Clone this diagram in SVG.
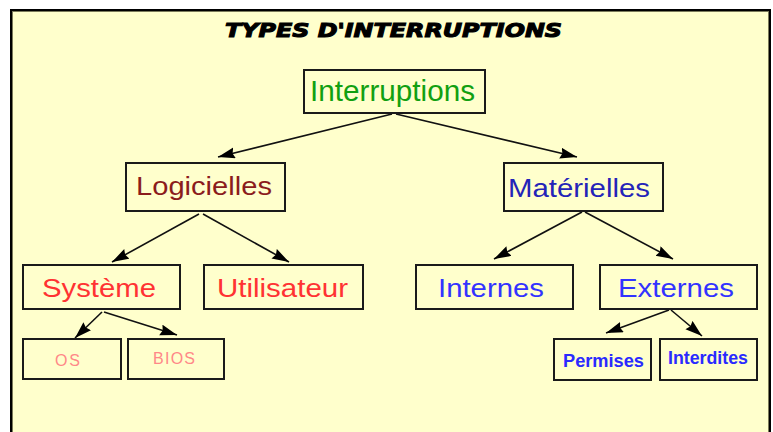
<svg xmlns="http://www.w3.org/2000/svg" width="773" height="432" viewBox="0 0 773 432">
<style>
.box{fill:none;stroke:#1a1a1a;stroke-width:2}
.t{font-family:"Liberation Sans",Arial,sans-serif}
.big{font-size:25px}
.edge{stroke:#111;stroke-width:1.6;fill:none;marker-end:url(#ah)}
</style>
<defs>
<marker id="ah" markerUnits="userSpaceOnUse" markerWidth="18" markerHeight="12" refX="17" refY="5.5" orient="auto">
<path d="M0,0 L17,5.5 L0,11 L2,5.5 z" fill="#000"/>
</marker>
</defs>
<rect x="0" y="0" width="773" height="432" fill="#ffffff"/>
<rect x="11" y="10" width="759" height="430" fill="#ffffcc" stroke="#000" stroke-width="2"/>
<rect x="12.5" y="11.5" width="756" height="430" fill="none" stroke="#7a7a5a" stroke-width="1"/>
<text x="225" y="37" textLength="337" lengthAdjust="spacingAndGlyphs" style="font-family:'DejaVu Sans',sans-serif;font-weight:bold;font-style:italic;font-size:20px" fill="#000" stroke="#000" stroke-width="1.1">TYPES D'INTERRUPTIONS</text>

<g id="connectors">
<line class="edge" x1="392" y1="114" x2="218" y2="157"/>
<line class="edge" x1="396" y1="114" x2="577" y2="157"/>
<line class="edge" x1="199" y1="214" x2="112" y2="262"/>
<line class="edge" x1="203" y1="214" x2="289" y2="262"/>
<line class="edge" x1="582" y1="212" x2="494" y2="259"/>
<line class="edge" x1="585" y1="212" x2="673" y2="259"/>
<line class="edge" x1="102" y1="312" x2="75" y2="338"/>
<line class="edge" x1="104" y1="312" x2="177" y2="335"/>
<line class="edge" x1="669" y1="310" x2="606" y2="333"/>
<line class="edge" x1="671" y1="310" x2="702" y2="336"/>
</g>

<g id="n-interruptions">
<rect class="box" x="304" y="70" width="181" height="43"/>
<text class="t" x="310" y="101" textLength="165" lengthAdjust="spacingAndGlyphs" font-size="29" fill="#11a011">Interruptions</text>
</g>
<g id="n-logicielles">
<rect class="box" x="126" y="163" width="159" height="48"/>
<text class="t big" x="136" y="195" textLength="136" lengthAdjust="spacingAndGlyphs" fill="#8b1c1c">Logicielles</text>
</g>
<g id="n-materielles">
<rect class="box" x="504" y="163" width="159" height="48"/>
<text class="t big" x="508" y="197" textLength="142" lengthAdjust="spacingAndGlyphs" fill="#2424b8">Matérielles</text>
</g>
<g id="n-systeme">
<rect class="box" x="23" y="265" width="157" height="44"/>
<text class="t big" x="42" y="297" textLength="114" lengthAdjust="spacingAndGlyphs" fill="#ff3333">Système</text>
</g>
<g id="n-utilisateur">
<rect class="box" x="204" y="265" width="159" height="44"/>
<text class="t big" x="217" y="297" textLength="131" lengthAdjust="spacingAndGlyphs" fill="#ff3333">Utilisateur</text>
</g>
<g id="n-internes">
<rect class="box" x="416" y="265" width="157" height="44"/>
<text class="t big" x="438" y="297" textLength="106" lengthAdjust="spacingAndGlyphs" fill="#3333ff">Internes</text>
</g>
<g id="n-externes">
<rect class="box" x="600" y="265" width="157" height="44"/>
<text class="t big" x="618" y="297" textLength="116" lengthAdjust="spacingAndGlyphs" fill="#3333ff">Externes</text>
</g>
<g id="n-os">
<rect class="box" x="23" y="339" width="98" height="40"/>
<text class="t" x="55" y="366" textLength="25" lengthAdjust="spacing" font-size="16" fill="#ff8888">OS</text>
</g>
<g id="n-bios">
<rect class="box" x="128" y="339" width="96" height="40"/>
<text class="t" x="153" y="364" textLength="42" lengthAdjust="spacing" font-size="16" fill="#ff8888">BIOS</text>
</g>
<g id="n-permises">
<rect class="box" x="554" y="339" width="97" height="41"/>
<text class="t" x="563" y="367" textLength="81" lengthAdjust="spacingAndGlyphs" font-size="18" font-weight="bold" fill="#2a2aff">Permises</text>
</g>
<g id="n-interdites">
<rect class="box" x="660" y="339" width="97" height="41"/>
<text class="t" x="668" y="364" textLength="80" lengthAdjust="spacingAndGlyphs" font-size="18" font-weight="bold" fill="#2a2aff">Interdites</text>
</g>
</svg>
